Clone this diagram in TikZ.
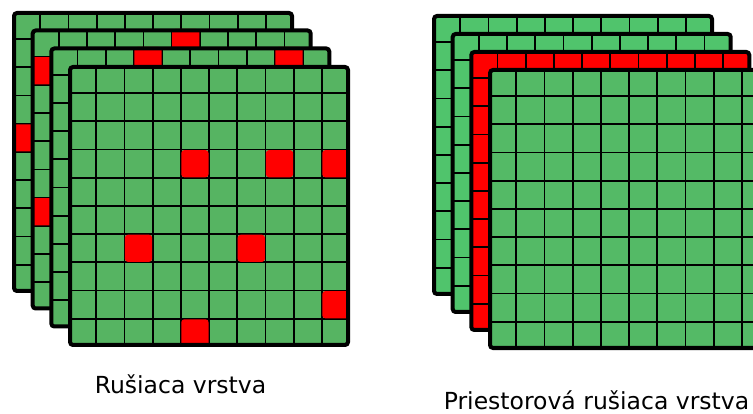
\documentclass[tikz,border=0pt]{standalone}
\usepackage{fontspec}
\setmainfont{DejaVu Sans}
\usetikzlibrary{calc}

\definecolor{mapgreen}{RGB}{86,180,98}
\definecolor{mapgreenlight}{RGB}{80,196,108}
\definecolor{mapgreenfront}{RGB}{84,186,102}
\definecolor{mapred}{RGB}{255,0,0}

\tikzset{
  frame/.style={line width=4pt, rounded corners=3pt},
  gridline/.style={line width=1.8pt},
  hot/.style={fill=mapred, rounded corners=3pt},
  caption/.style={anchor=base, inner sep=0pt, text depth=0pt, font=\fontsize{23.5}{28}\selectfont},
}

\newcommand{\plate}[4]{%
  \begin{scope}[shift={(#1,#2)}]
    \fill[#3, rounded corners=3pt] (2,2) rectangle (280,280);
    \foreach \k in {1,...,9} {
      \draw[gridline] (28.2*\k,2) -- (28.2*\k,280);
      \draw[gridline] (2,28.2*\k) -- (280,28.2*\k);
    }
    \foreach \c/\r in {#4} {
      \fill[hot] (28.2*\c+0.5,28.2*\r+0.5) rectangle ++(27.2,27.2);
    }
    \draw[frame] (2,2) rectangle (280,280);
  \end{scope}}

\begin{document}
\begin{tikzpicture}[x=1pt, y=-1pt]
\useasboundingbox (0,0) rectangle (753,414);
\clip (0,0) rectangle (753,414);

\plate{12}{11}{mapgreen}{0/4}
\plate{30.7}{28.5}{mapgreen}{5/0, 0/1, 0/6}
\plate{49.3}{46.5}{mapgreen}{3/0, 8/0}
\plate{68}{65}{mapgreen}{4/3, 7/3, 9/3, 2/6, 6/6, 9/8, 4/9}

\plate{432}{14}{mapgreenlight}{}
\plate{450.7}{32}{mapgreenlight}{}
\plate{469.3}{50}{mapred}{}
\plate{488}{68}{mapgreenfront}{}

\node (noise) at (180.5,393) [caption] {Rušiaca vrstva};
\node (spatial) at (596.5,409) [caption] {Priestorová rušiaca vrstva};

\end{tikzpicture}
\end{document}
